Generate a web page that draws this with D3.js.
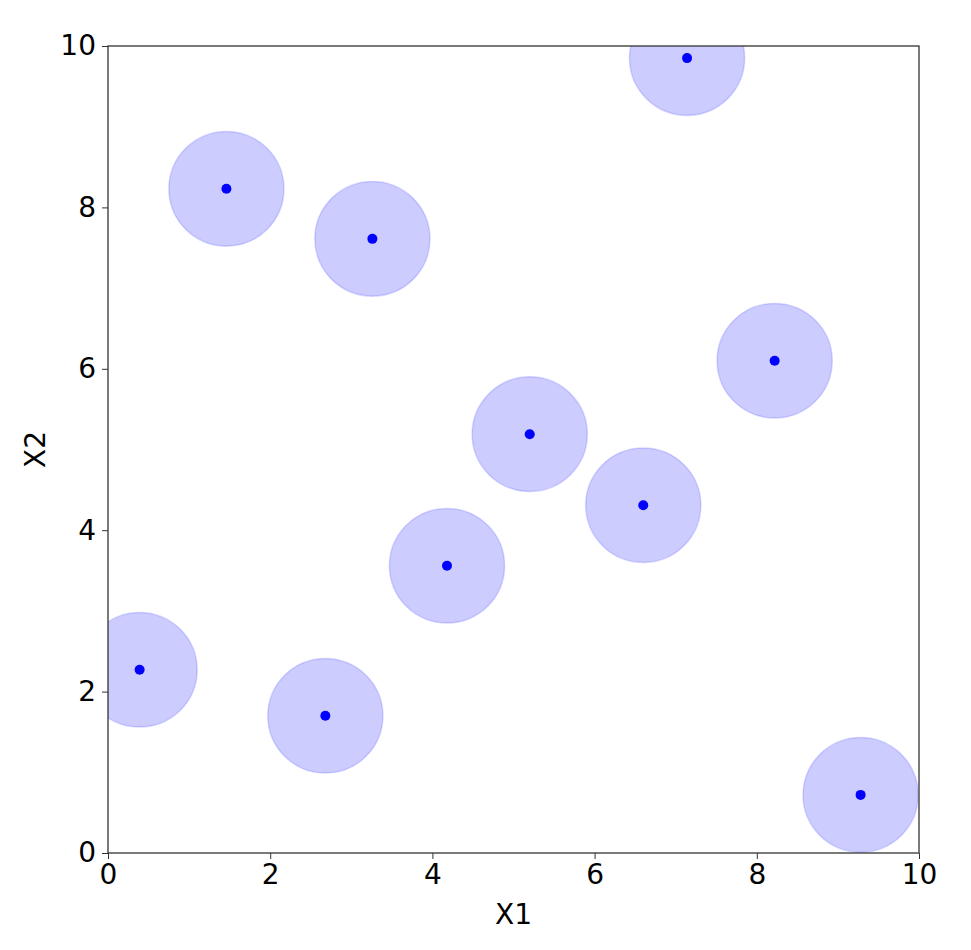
<!DOCTYPE html><html><head><meta charset="utf-8"><script src="https://cdn.jsdelivr.net/npm/d3@7"></script>
<style>body{margin:0;background:#fff}</style></head><body><svg id="c" width="971" height="950"></svg><script>
const xs=[0.39,1.46,3.26,7.14,8.22,5.20,6.60,4.18,2.68,9.28];
const ys=[2.27,8.23,7.61,9.85,6.10,5.19,4.31,3.56,1.70,0.72];
const radius=0.71;
const ticks=[0,2,4,6,8,10];
const svg=d3.select("#c");
const L=108,R=919,T=46,B=853;
const x=d3.scaleLinear().domain([0,10]).range([L,R]);
const y=d3.scaleLinear().domain([0,10]).range([B,T]);
svg.append("clipPath").attr("id","cp").append("rect").attr("x",L).attr("y",T).attr("width",R-L).attr("height",B-T);
const g=svg.append("g").attr("clip-path","url(#cp)");
const pts=xs.map((v,i)=>({x:v,y:ys[i]}));
g.selectAll("ellipse").data(pts).join("ellipse").attr("cx",d=>x(d.x)).attr("cy",d=>y(d.y))
 .attr("rx",x(radius)-x(0)).attr("ry",y(0)-y(radius)).attr("fill","rgba(0,0,255,0.2)").attr("stroke","rgba(0,0,255,0.15)").attr("stroke-width",1.5);
g.selectAll("circle").data(pts).join("circle").attr("cx",d=>x(d.x)).attr("cy",d=>y(d.y)).attr("r",5).attr("fill","#0000ff");
const font="DejaVu Sans";
const ax=svg.append("g").attr("transform",`translate(0,${B})`).call(d3.axisBottom(x).tickValues(ticks).tickSize(6).tickPadding(5));
const ay=svg.append("g").attr("transform",`translate(${L},0)`).call(d3.axisLeft(y).tickValues(ticks).tickSize(6).tickPadding(6));
[ax,ay].forEach(a=>{a.select(".domain").remove();a.selectAll("text").attr("font-family",font).attr("font-size",28).attr("fill","#000");a.selectAll("line").attr("stroke","#333");});
svg.append("rect").attr("x",L).attr("y",T).attr("width",R-L).attr("height",B-T).attr("fill","none").attr("stroke","#333").attr("stroke-width",1.3);
svg.append("text").attr("x",(L+R)/2).attr("y",924).attr("text-anchor","middle").attr("font-family",font).attr("font-size",28).text("X1");
svg.append("text").attr("transform",`translate(45,${(T+B)/2}) rotate(-90)`).attr("text-anchor","middle").attr("font-family",font).attr("font-size",28).text("X2");
</script></body></html>
